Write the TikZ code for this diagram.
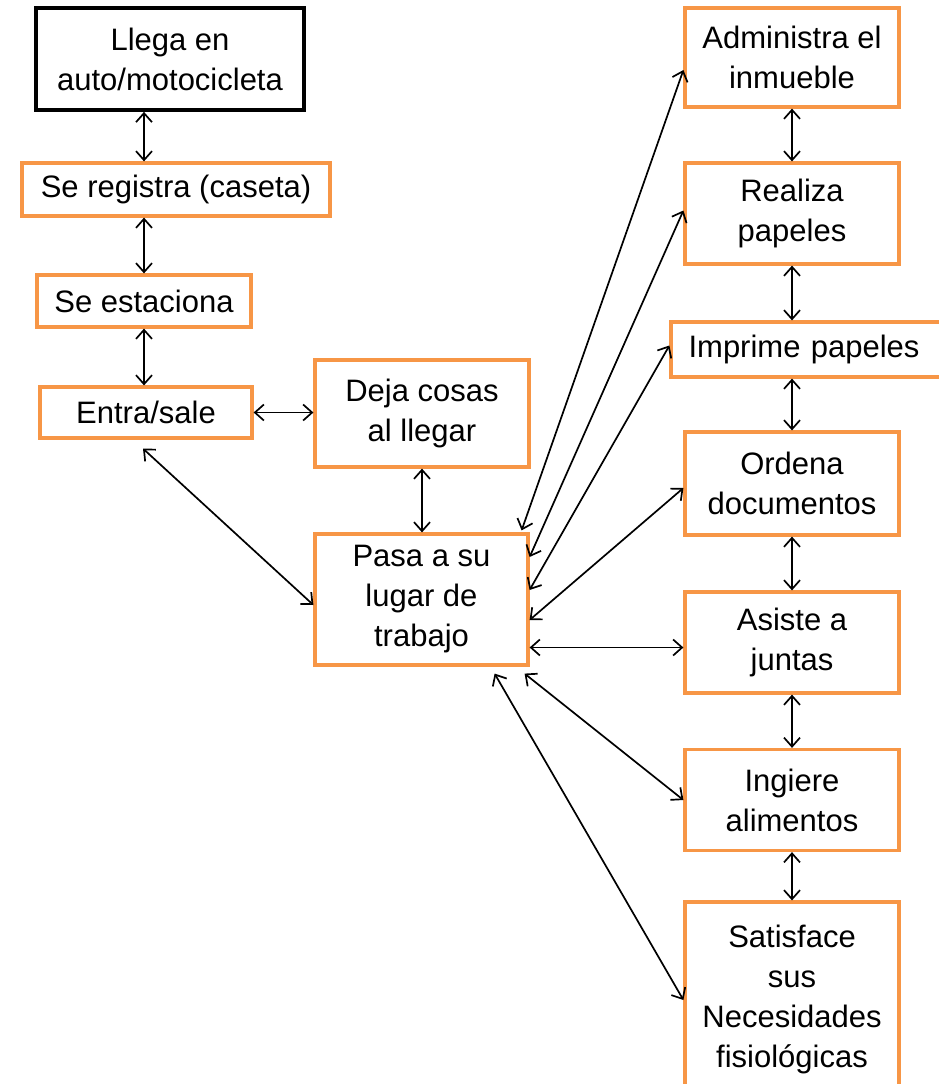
\documentclass[tikz,border=0pt]{standalone}
\usepackage{fontspec}
\setmainfont{Liberation Sans}
\usetikzlibrary{arrows.meta}
\definecolor{boxorange}{RGB}{247,150,70}
\tikzset{
  caja/.style={draw=boxorange, line width=3.2pt, rectangle, align=center, inner sep=0pt,
    minimum width=214pt, font=\fontsize{31}{40}\selectfont},
  link/.style={<->, line width=1.7pt},
}
\begin{document}
\begin{tikzpicture}[x=1pt, y=1pt, >={Straight Barb[length=9pt,width=16pt]}]
      \useasboundingbox (0,0) rectangle (938,-1084);
      % left column
      \node[caja, draw=black, line width=3.8pt, minimum width=268pt, minimum height=102pt] (llega) at (170,-59) {Llega en\\auto/motocicleta};
      \node[caja, minimum width=308pt, minimum height=53pt] (registra) at (176,-189.5) {Se registra (caseta)};
      \node[caja, minimum height=52pt] (estaciona) at (144,-301) {Se estaciona};
      \node[caja, minimum width=212pt, minimum height=51pt] (entra) at (146,-412.5) {Entra/sale};
      \node[caja, minimum height=107pt] (deja) at (422,-413.5) {Deja cosas\\al llegar};
      \node[caja, minimum width=213pt, minimum height=131pt] (pasa) at (421.5,-599.5) {Pasa a su\\lugar de\\trabajo};
      % right column
      \node[caja, minimum height=99pt] (admin) at (792,-57.5) {Administra el\\inmueble};
      \node[caja, minimum height=101pt] (realiza) at (792,-213.5) {Realiza\\papeles};
      \node[caja, minimum width=274pt, minimum height=55pt, text width=274pt] (imprime) at (808,-349.5) {\hspace*{-8pt}Imprime papeles};
      \node[caja, minimum height=103pt] (ordena) at (792,-483.5) {Ordena\\documentos};
      \node[caja, minimum height=101pt] (asiste) at (792,-642.5) {Asiste a\\juntas};
      \node[caja, minimum height=101pt] (ingiere) at (792,-800) {Ingiere\\alimentos};
      \node[caja, minimum height=194pt] (satisface) at (792,-999) {Satisface\\sus\\Necesidades\\fisiológicas};
      % connectors
      \draw[link] (llega.south -| estaciona) -- (registra.north -| estaciona);
      \draw[link] (registra.south -| estaciona) -- (estaciona.north);
      \draw[link] (estaciona.south) -- (estaciona.south |- entra.north);
      \draw[link] (entra.east) -- (entra.east -| deja.west);
      \draw[link] ([xshift=-3pt,yshift=-9pt]entra.south) -- ([yshift=-5.5pt]pasa.west);
      \draw[link] (deja.south) -- (deja.south |- pasa.north);
      \draw[link] ([xshift=-8pt,yshift=2pt]pasa.north east) -- ([yshift=-12.5pt]admin.west);
      \draw[link] ([yshift=42.5pt]pasa.east) -- ([yshift=3pt]realiza.west);
      \draw[link] ([yshift=9.5pt]pasa.east) -- ([yshift=4pt]imprime.west);
      \draw[link] ([yshift=-20.5pt]pasa.east) -- ([yshift=-4.5pt]ordena.west);
      \draw[link] ([yshift=-48pt]pasa.east) -- ([yshift=-48pt]pasa.east -| asiste.west);
      \draw[link] ([xshift=-5pt,yshift=-7pt]pasa.south east) -- (ingiere.west);
      \draw[link] ([xshift=-35pt,yshift=-7pt]pasa.south east) -- ([yshift=-1pt]satisface.west);
      \draw[link] (admin.south) -- (realiza.north);
      \draw[link] (realiza.south) -- (realiza.south |- imprime.north);
      \draw[link] (imprime.south -| ordena) -- (ordena.north);
      \draw[link] (ordena.south) -- (asiste.north);
      \draw[link] (asiste.south) -- (ingiere.north);
      \draw[link] (ingiere.south) -- (satisface.north);
    \end{tikzpicture}
\end{document}
